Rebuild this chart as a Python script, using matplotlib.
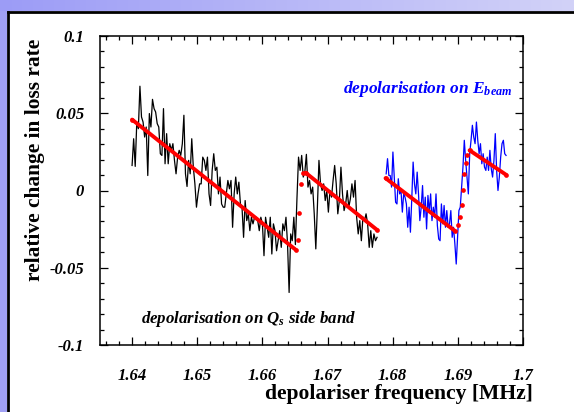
import numpy as np
import matplotlib
matplotlib.use("Agg")
import matplotlib.pyplot as plt
from matplotlib.patches import Rectangle
from matplotlib.lines import Line2D
from matplotlib.colors import LinearSegmentedColormap

plt.rcParams['font.family'] = 'Liberation Serif'
plt.rcParams['axes.unicode_minus'] = False
plt.rcParams['mathtext.fontset'] = 'custom'
plt.rcParams['mathtext.it'] = 'Liberation Serif:italic:bold'
plt.rcParams['mathtext.rm'] = 'Liberation Serif:italic:bold'
plt.rcParams['mathtext.bf'] = 'Liberation Serif:italic:bold'

# scan on the Qs side band (black), frequency range in MHz
qs_range = (1.6400, 1.6776)
qs_loss = [
    0.0162, 0.0335, 0.0156, 0.0443, 0.0400, 0.0675, 0.0476, 0.0443, 0.0346, 0.0411,
    0.0097, 0.0498, 0.0411, 0.0590, 0.0530, 0.0508, 0.0433, 0.0411, 0.0238, 0.0227,
    0.0530, 0.0173, 0.0368, 0.0173, 0.0303, 0.0260, 0.0303, 0.0195, 0.0108, 0.0216,
    0.0260, 0.0227, 0.0303, 0.0487, 0.0108, 0.0026, 0.0195, 0.0108, 0.0335, 0.0151,
    0.0043, -0.0108, -0.0022, 0.0043, 0.0043, 0.0216, 0.0195, 0.0130, 0.0216, -0.0022,
    -0.0097, 0.0130, 0.0238, 0.0130, 0.0151, -0.0022, 0.0087, -0.0087, -0.0108, -0.0108,
    -0.0022, 0.0065, 0.0011, 0.0065, -0.0238, -0.0022, 0.0087, -0.0022, 0.0054, -0.0087,
    -0.0108, -0.0303, -0.0065, -0.0195, -0.0151, -0.0260, -0.0173, -0.0216, -0.0173, -0.0173,
    -0.0195, -0.0260, -0.0173, -0.0216, -0.0422, -0.0173, -0.0238, -0.0303, -0.0173, -0.0411,
    -0.0216, -0.0260, -0.0390, -0.0325, -0.0260, -0.0368, -0.0216, -0.0260, -0.0173, -0.0346,
    -0.0660, -0.0281, -0.0325, -0.0173, -0.0350, -0.0050,
    0.0216, 0.0130, 0.0227, 0.0087, 0.0119, 0.0234, 0.0022, 0.0065, -0.0022, 0.0022,
    -0.0151, -0.0378, -0.0108, 0.0195, 0.0043, 0.0000, 0.0043, -0.0065, 0.0000, -0.0140,
    0.0000, -0.0043, 0.0065, 0.0162, 0.0043, -0.0151, -0.0065, 0.0151, -0.0022, -0.0130,
    -0.0087, 0.0000, -0.0108, -0.0054, 0.0043, -0.0043, 0.0065, -0.0173, -0.0281, -0.0195,
    -0.0325, -0.0173, -0.0195, -0.0151, -0.0216, -0.0368, -0.0260, -0.0368, -0.0281, -0.0325,
    -0.0303,
]

# scan on E_beam (blue)
eb_range = (1.6790, 1.6974)
eb_loss = [
    0.0108, 0.0206, 0.0097, 0.0097, 0.0022, 0.0249, 0.0087, -0.0076, -0.0087, 0.0076,
    -0.0022, 0.0000, -0.0140, -0.0022, -0.0043, -0.0087, -0.0238, -0.0108, -0.0270, -0.0054,
    0.0184, 0.0043, -0.0022, 0.0119, -0.0022, -0.0195, -0.0108, 0.0032, -0.0173, -0.0043,
    -0.0249, -0.0032, -0.0140, -0.0022, -0.0195, -0.0108, -0.0173, -0.0022, -0.0227, -0.0314,
    -0.0325, -0.0087, -0.0216, -0.0097, -0.0238, -0.0130, -0.0238,
    -0.0216, -0.0130, -0.0303, -0.0238, -0.0346, -0.0476, -0.0303, -0.0130, -0.0108, 0.0022,
    0.0151, 0.0325, 0.0195, 0.0087, -0.0022, 0.0238, 0.0325, 0.0422, 0.0346, 0.0303,
    0.0443, 0.0325, 0.0238, 0.0303, 0.0173, 0.0238, 0.0151, 0.0130, 0.0216, 0.0130,
    0.0260, 0.0141, 0.0087, 0.0195, 0.0368, 0.0130, 0.0000, 0.0087, 0.0216, 0.0303,
    0.0325, 0.0238, 0.0227,
]

# fitted curves (red): straight parts, then the sampled points across each step
qs_fit_f = [1.6400, 1.6651, 1.66552, 1.66563, 1.66597, 1.66623, 1.66664, 1.6776]
qs_fit_v = [0.0459, -0.0383, -0.0320, -0.0143, 0.0043, 0.0112, 0.0115, -0.0255]
eb_fit_f = [1.6789, 1.6895, 1.6900, 1.6903, 1.6906, 1.6908, 1.6910, 1.6912, 1.6914, 1.6918, 1.6974]
eb_fit_v = [0.0080, -0.0260, -0.0225, -0.0173, -0.0093, 0.0006, 0.0104, 0.0180, 0.0227, 0.0260, 0.0102]

xticks = [1.64, 1.65, 1.66, 1.67, 1.68, 1.69, 1.70]
xlabels = ['1.64', '1.65', '1.66', '1.67', '1.68', '1.69', '1.7']
yticks = [-0.1, -0.05, 0, 0.05, 0.1]
ylabels = ['-0.1', '-0.05', '0', '0.05', '0.1']

W, H = 574, 412
fig = plt.figure(figsize=(W / 100, H / 100), dpi=100)
fig.patch.set_facecolor('white')

# frame decoration: gradient bar on top, lavender strip at left, black border
bar = fig.add_axes([0, 1 - 11 / H, 1, 11 / H])
cmap = LinearSegmentedColormap.from_list('bar', ['#9c9cf6', '#d2d2f8'])
bar.imshow(np.linspace(0, 1, 256)[None, :], aspect='auto', cmap=cmap, extent=[0, 1, 0, 1])
bar.axis('off')
fig.patches.append(Rectangle((0, 0), 7 / W, 1 - 11 / H, transform=fig.transFigure,
                             facecolor='#a0a0f4', edgecolor='none'))
fig.lines.append(Line2D([8 / W, 8 / W], [0, 1 - 12 / H], transform=fig.transFigure,
                        color='black', lw=2))
fig.lines.append(Line2D([8 / W, 1], [1 - 12 / H, 1 - 12 / H], transform=fig.transFigure,
                        color='black', lw=2))

ax = fig.add_axes([99.5 / W, 1 - 345 / H, (523 - 99.5) / W, (345 - 36) / H])
ax.plot(np.linspace(*qs_range, len(qs_loss)), qs_loss, color='black', lw=0.9)
ax.plot(np.linspace(*eb_range, len(eb_loss)), eb_loss, color='#0000ff', lw=0.9)

for ff, vv in [(qs_fit_f, qs_fit_v), (eb_fit_f, eb_fit_v)]:
    ax.plot(ff[:2], vv[:2], color='#ff0000', lw=2.8, solid_capstyle='round')
    ax.plot(ff[-2:], vv[-2:], color='#ff0000', lw=2.8, solid_capstyle='round')
    ax.plot(ff, vv, color='#ff0000', ls='none', marker='o', ms=3.4, mew=0)

ax.set_xlim(1.635, 1.700)
ax.set_ylim(-0.1, 0.1)
ax.set_xticks(xticks)
ax.set_xticklabels(xlabels)
ax.set_yticks(yticks)
ax.set_yticklabels(ylabels)
ax.set_xticks(np.arange(1.636, 1.7, 0.002), minor=True)
ax.set_yticks(np.arange(-0.09, 0.1, 0.01), minor=True)
ax.tick_params(which='both', direction='in', top=True, right=True, width=0.9)
ax.tick_params(which='major', length=5.5)
ax.tick_params(which='minor', length=3)
ax.tick_params(axis='x', pad=16.5)
ax.tick_params(axis='y', pad=11)
for lab in ax.get_xticklabels() + ax.get_yticklabels():
    lab.set_fontsize(12)
    lab.set_fontweight('bold')
    lab.set_fontstyle('italic')
for s in ax.spines.values():
    s.set_linewidth(1.1)

ax.text(0.974, 0.815, r'depolarisation on $E_{beam}$', transform=ax.transAxes,
        ha='right', va='baseline', color='#0000ff', fontsize=12.5,
        fontweight='bold', fontstyle='italic')
ax.text(0.098, 0.071, r'depolarisation on $Q_{s}$ side band', transform=ax.transAxes,
        ha='left', va='baseline', color='black', fontsize=12.2,
        fontweight='bold', fontstyle='italic')

fig.text(533 / W, 1 - 394 / H, 'depolariser frequency [MHz]', ha='right', va='center',
         fontsize=15.6, fontweight='bold')
fig.text(35 / W, 1 - 160 / H, 'relative change in loss rate', ha='center', va='center',
         rotation=90, fontsize=15.4, fontweight='bold')

fig.savefig('out.png', dpi=100)
